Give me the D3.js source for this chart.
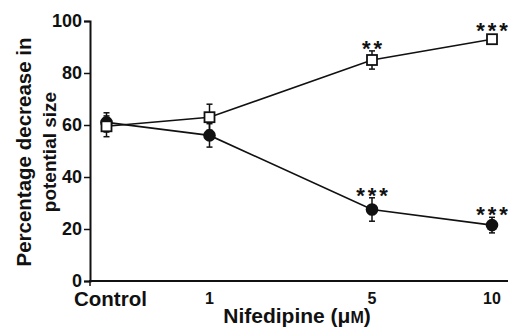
<!DOCTYPE html>
<html>
<head>
<meta charset="utf-8">
<script src="https://cdn.jsdelivr.net/npm/d3@7"></script>
<style>
body { margin: 0; background: #fff; }
text { font-family: "Liberation Sans", Arial, sans-serif; fill: #111; }
</style>
</head>
<body>
<svg id="chart" width="516" height="330"></svg>
<script>
const categories = ["Control", "1", "5", "10"];
const squareVals = [59.5, 63, 85, 93];
const squareErr  = [4, 5, 3.5, 0];
const circleVals = [61, 56, 27.5, 21.5];
const circleErr  = [3.7, 4.5, 4.5, 3];
const squareStars = ["", "", "**", "***"];
const circleStars = ["", "", "***", "***"];
const yTicks = [0, 20, 40, 60, 80, 100];

const svg = d3.select("#chart");

// the concentrations are not evenly spaced on the original axis
const xPos = d3.scaleOrdinal().domain(categories).range([106.5, 209.5, 372, 492]);
const y = d3.scaleLinear().domain([0, 100]).range([281, 21]);

// y axis
const yAxis = svg.append("g")
    .attr("transform", "translate(90,0)")
    .call(d3.axisLeft(y).tickValues(yTicks).tickSize(6).tickPadding(2));
yAxis.select(".domain").attr("stroke", "#111").attr("stroke-width", 2);
yAxis.selectAll(".tick line").attr("stroke", "#111").attr("stroke-width", 1.5);
yAxis.selectAll(".tick text")
    .style("font-size", "18px")
    .style("font-weight", "bold")
    .style("font-family", "Liberation Sans, Arial, sans-serif")
    .attr("fill", "#111");

// x axis line
svg.append("line")
    .attr("x1", 89).attr("x2", 508)
    .attr("y1", y(0)).attr("y2", y(0))
    .attr("stroke", "#111").attr("stroke-width", 2);
svg.append("line")
    .attr("x1", 90).attr("x2", 90)
    .attr("y1", y(0)).attr("y2", y(0) + 5)
    .attr("stroke", "#111").attr("stroke-width", 1.5);

// category labels
svg.selectAll(".cat")
    .data(categories)
    .enter().append("text")
    .attr("class", "cat")
    .attr("x", (d, i) => i === 0 ? 74 : xPos(d))
    .attr("y", (d, i) => i === 0 ? 306 : 304)
    .attr("text-anchor", (d, i) => i === 0 ? "start" : "middle")
    .style("font-size", (d, i) => i === 0 ? "20.5px" : "16px")
    .style("font-weight", "bold")
    .text(d => d);

// axis titles
const xt = svg.append("text")
    .attr("x", 297).attr("y", 323)
    .attr("text-anchor", "middle")
    .style("font-size", "21px")
    .style("font-weight", "bold");
xt.append("tspan").text("Nifedipine (μ");
xt.append("tspan").style("font-size", "16px").text("M");
xt.append("tspan").text(")");

const yt = svg.append("text")
    .attr("transform", "translate(0,152) rotate(-90)")
    .attr("text-anchor", "middle")
    .style("font-size", "20.5px")
    .style("font-weight", "bold");
yt.append("tspan").attr("x", 0).attr("y", 31).text("Percentage decrease in");
yt.append("tspan").attr("x", 0).attr("y", 56).style("font-size", "19px").text("potential size");

const line = d3.line()
    .x((d, i) => xPos(categories[i]))
    .y(d => y(d));

function series(vals, errs, stars, shape) {
    const g = svg.append("g");
    g.append("path")
        .datum(vals)
        .attr("fill", "none")
        .attr("stroke", "#111")
        .attr("stroke-width", 1.6)
        .attr("d", line);

    const eb = g.selectAll(".err")
        .data(vals.map((v, i) => ({ c: categories[i], v: v, e: errs[i] })))
        .enter().append("g")
        .filter(d => d.e > 0);
    eb.append("line")
        .attr("x1", d => xPos(d.c)).attr("x2", d => xPos(d.c))
        .attr("y1", d => y(d.v + d.e)).attr("y2", d => y(d.v - d.e))
        .attr("stroke", "#111").attr("stroke-width", 1.5);
    eb.append("line")
        .attr("x1", d => xPos(d.c) - 3).attr("x2", d => xPos(d.c) + 3)
        .attr("y1", d => y(d.v + d.e)).attr("y2", d => y(d.v + d.e))
        .attr("stroke", "#111").attr("stroke-width", 1.5);
    eb.append("line")
        .attr("x1", d => xPos(d.c) - 3).attr("x2", d => xPos(d.c) + 3)
        .attr("y1", d => y(d.v - d.e)).attr("y2", d => y(d.v - d.e))
        .attr("stroke", "#111").attr("stroke-width", 1.5);

    if (shape === "square") {
        g.selectAll(".pt")
            .data(vals)
            .enter().append("rect")
            .attr("x", (d, i) => xPos(categories[i]) - 5)
            .attr("y", d => y(d) - 5)
            .attr("width", 10).attr("height", 10)
            .attr("fill", "#fff")
            .attr("stroke", "#111")
            .attr("stroke-width", 1.8);
    } else {
        g.selectAll(".pt")
            .data(vals)
            .enter().append("circle")
            .attr("cx", (d, i) => xPos(categories[i]))
            .attr("cy", d => y(d))
            .attr("r", 6.3)
            .attr("fill", "#111");
    }

    // significance stars sit just above the error bar (or the marker)
    g.selectAll(".star")
        .data(stars)
        .enter().append("text")
        .attr("x", (d, i) => xPos(categories[i]) + 1.5)
        .attr("y", (d, i) => (errs[i] > 0 ? y(vals[i] + errs[i]) : y(vals[i]) - 6) + 5)
        .attr("text-anchor", "middle")
        .style("font-size", "22px")
        .style("font-weight", "bold")
        .style("letter-spacing", "3px")
        .text(d => d);
}

series(circleVals, circleErr, circleStars, "circle");
series(squareVals, squareErr, squareStars, "square");
</script>
</body>
</html>
